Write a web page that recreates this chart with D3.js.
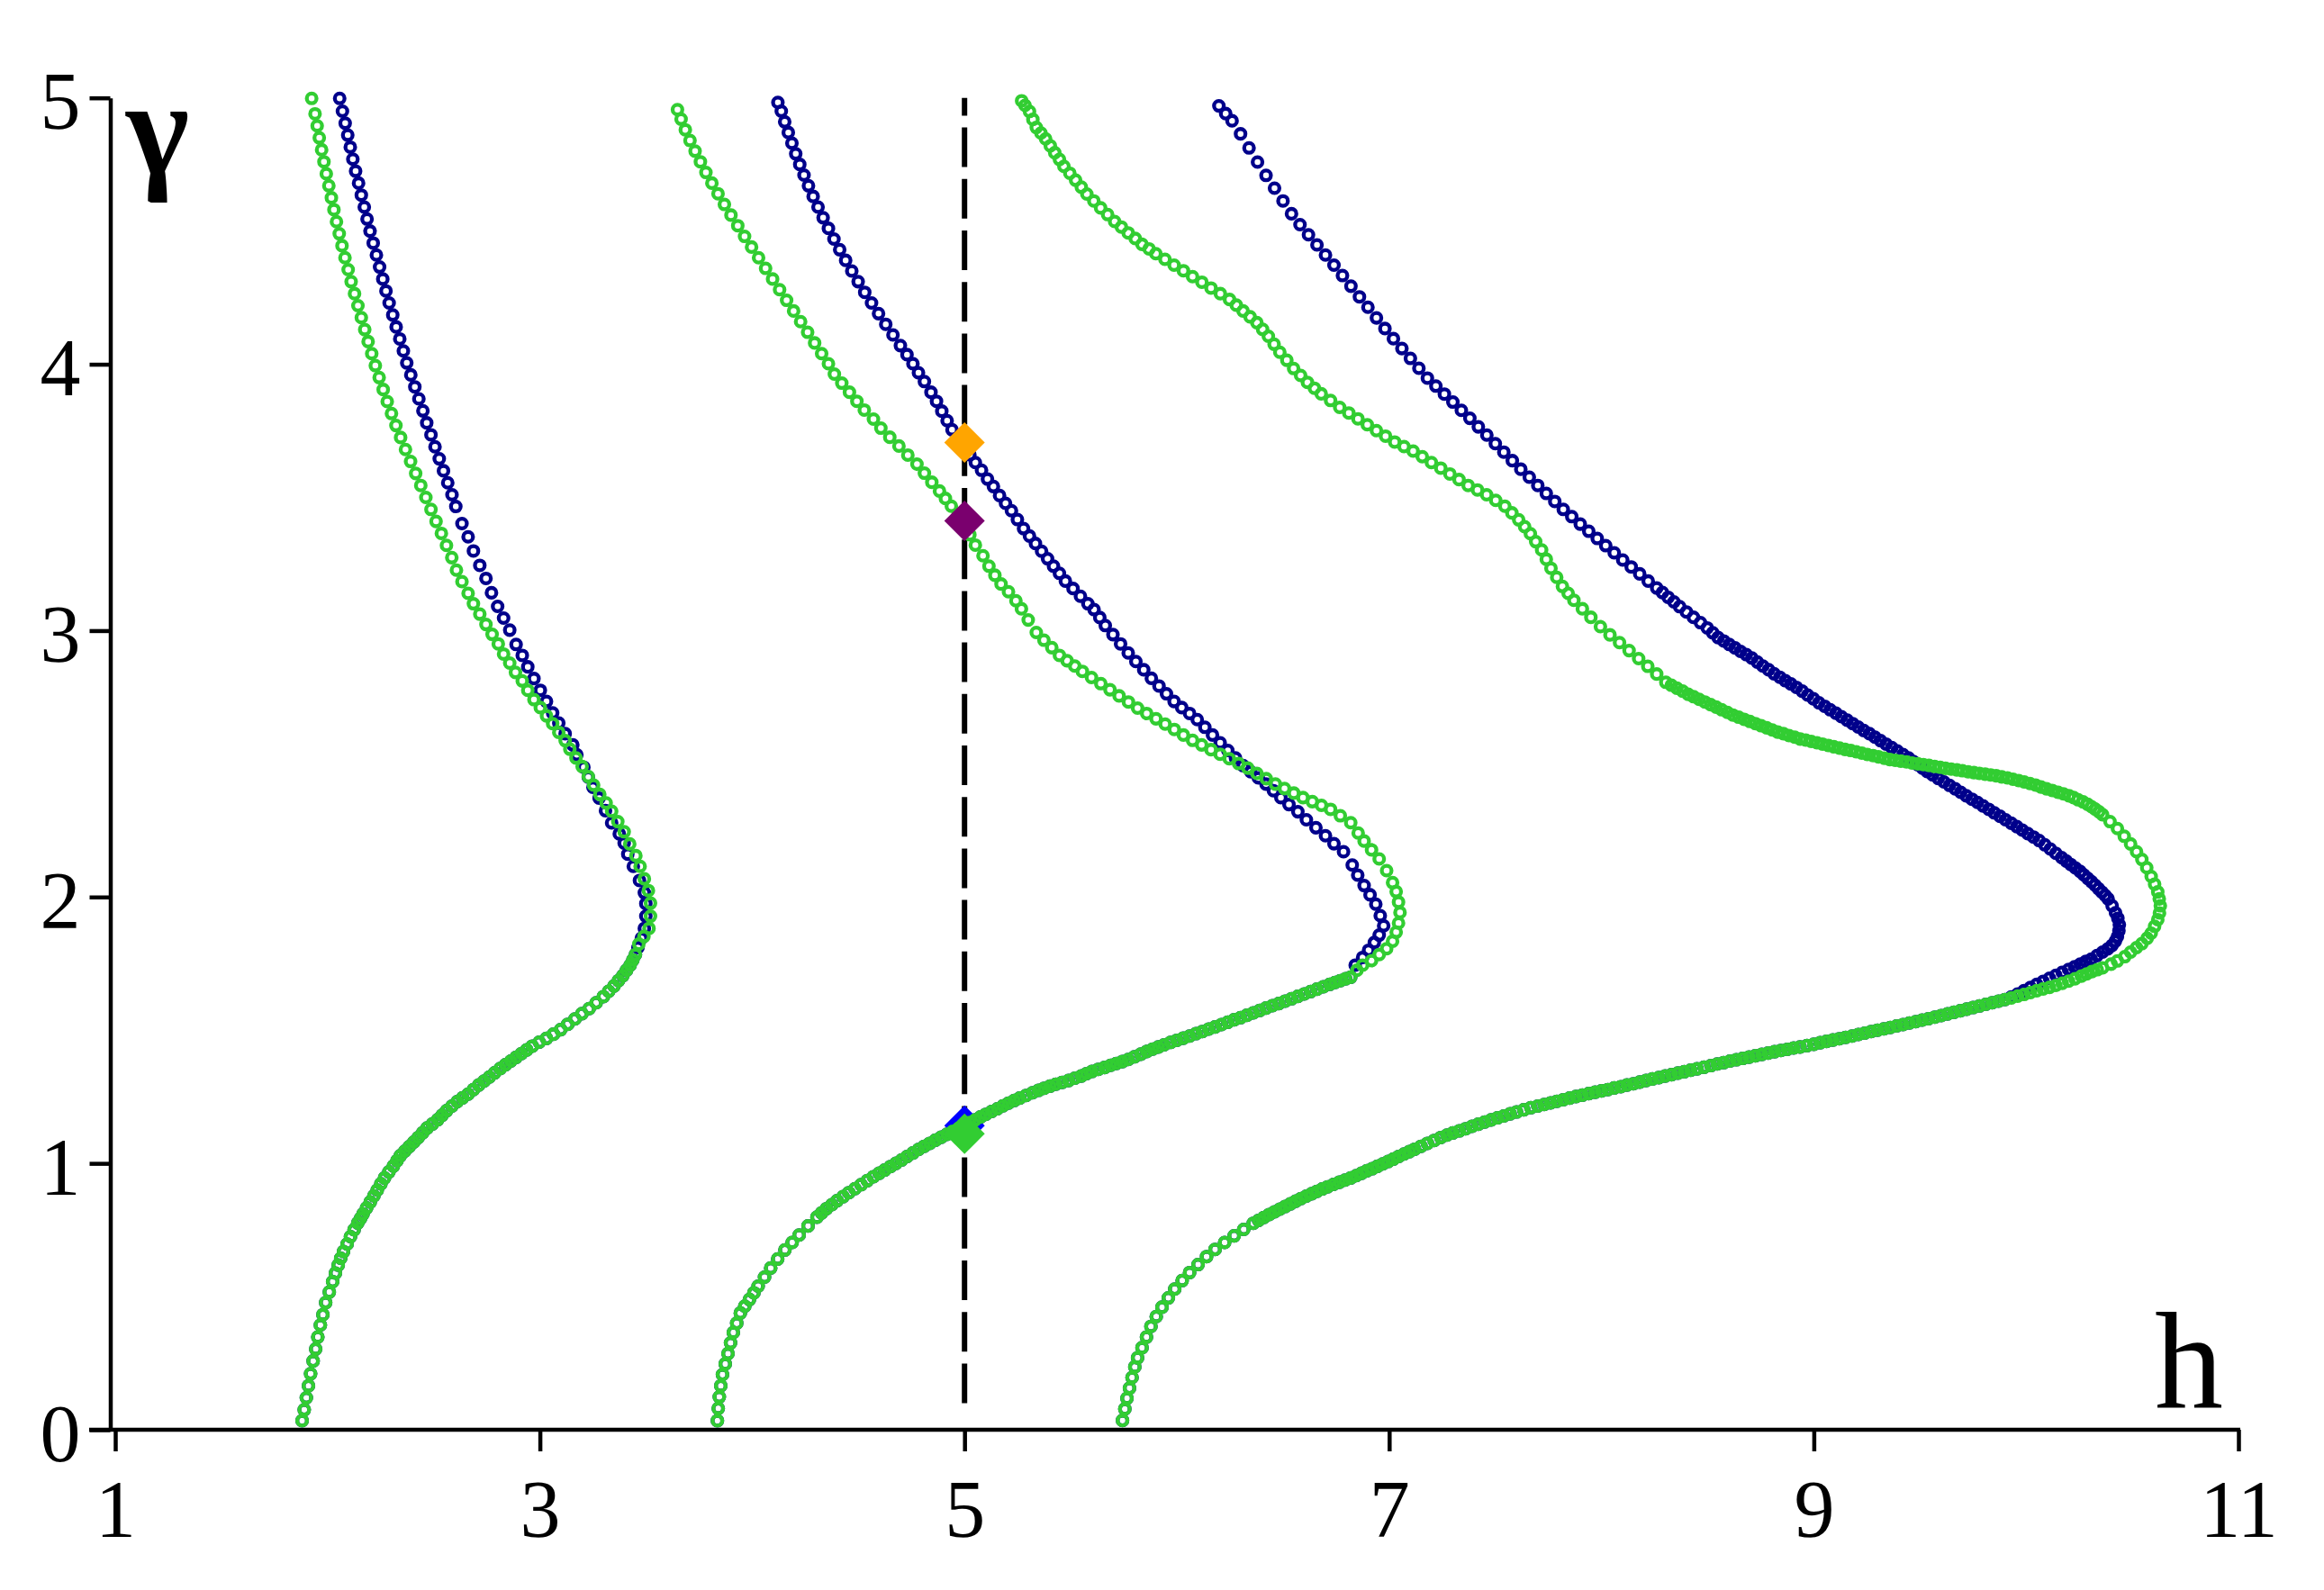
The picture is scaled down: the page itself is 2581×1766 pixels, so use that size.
<!DOCTYPE html>
<html>
<head>
<meta charset="utf-8">
<script src="https://cdn.jsdelivr.net/npm/d3@7"></script>
<style>
  html, body { margin: 0; padding: 0; background: #fff; }
  svg { display: block; }
  .tick text, .label { font-family: "Liberation Serif", "Times New Roman", serif; fill: #000; }
</style>
</head>
<body>
<svg id="chart" width="2581" height="1766"></svg>
<script>
// tick values
const hTicks = [1, 3, 5, 7, 9, 11];
const gammaTicks = [0, 1, 2, 3, 4, 5];

// dashed guide at h = 5, from gamma 0.1 up to 5
const guideH = 5;
const guideGamma = [0.1, 5];

// [h, gamma]; lower branches are shared by both series
const leftLower = [[1.88,0.034],[1.89,0.075],[1.90,0.12],[1.91,0.165],[1.92,0.21],[1.932,0.258],[1.944,0.303],[1.954,0.348],[1.966,0.393],[1.978,0.432],[1.991,0.477],[2.008,0.517],[2.024,0.556],[2.037,0.588],[2.05,0.618],[2.062,0.644],[2.075,0.669],[2.092,0.697],[2.108,0.725],[2.125,0.751],[2.142,0.776],[2.155,0.793],[2.167,0.81],[2.184,0.833],[2.201,0.855],[2.218,0.878],[2.234,0.9],[2.251,0.923],[2.268,0.945],[2.289,0.968],[2.31,0.99],[2.327,1.01],[2.343,1.029],[2.364,1.046],[2.385,1.063],[2.406,1.08],[2.427,1.097],[2.448,1.115],[2.469,1.133],[2.494,1.148],[2.519,1.164],[2.54,1.181],[2.561,1.198],[2.586,1.215],[2.611,1.232],[2.636,1.246],[2.662,1.26],[2.687,1.277],[2.712,1.294],[2.737,1.309],[2.762,1.324],[2.787,1.34],[2.813,1.356],[2.838,1.37],[2.863,1.384],[2.888,1.398],[2.913,1.412],[2.938,1.426],[2.964,1.44],[2.997,1.455],[3.031,1.469],[3.064,1.485],[3.098,1.502],[3.131,1.522],[3.165,1.542],[3.198,1.562],[3.232,1.581],[3.265,1.603],[3.299,1.626],[3.324,1.646],[3.349,1.666],[3.37,1.686],[3.391,1.705],[3.408,1.725],[3.425,1.744],[3.438,1.764],[3.45,1.784]];

const leftUpperBlue = [[3.462,1.81],[3.478,1.845],[3.492,1.882],[3.499,1.928],[3.499,1.975],[3.492,2.016],[3.469,2.062],[3.44,2.115],[3.414,2.161],[3.397,2.202],[3.374,2.237],[3.338,2.278],[3.309,2.324],[3.279,2.371],[3.25,2.412],[3.228,2.45],[3.207,2.487],[3.174,2.534],[3.155,2.571],[3.119,2.613],[3.089,2.653],[3.06,2.691],[3.031,2.734],[3.002,2.776],[2.972,2.82],[2.943,2.864],[2.917,2.907],[2.888,2.948],[2.858,3.002],[2.829,3.047],[2.801,3.091],[2.772,3.142],[2.746,3.196],[2.717,3.245],[2.687,3.299],[2.662,3.352],[2.633,3.402],[2.604,3.466],[2.586,3.51],[2.566,3.555],[2.546,3.6],[2.526,3.645],[2.506,3.69],[2.487,3.735],[2.467,3.78],[2.449,3.825],[2.43,3.87],[2.411,3.915],[2.392,3.96],[2.373,4.005],[2.357,4.05],[2.34,4.095],[2.323,4.14],[2.307,4.185],[2.29,4.23],[2.275,4.275],[2.26,4.32],[2.245,4.365],[2.23,4.41],[2.215,4.455],[2.2,4.5],[2.186,4.545],[2.173,4.59],[2.159,4.635],[2.146,4.68],[2.132,4.725],[2.119,4.77],[2.107,4.815],[2.095,4.86],[2.083,4.905],[2.07,4.95],[2.057,4.998]];

const leftUpperGreen = [[3.466,1.823],[3.49,1.852],[3.514,1.882],[3.521,1.928],[3.521,1.977],[3.511,2.024],[3.492,2.068],[3.472,2.115],[3.452,2.155],[3.423,2.199],[3.397,2.245],[3.367,2.283],[3.338,2.322],[3.312,2.353],[3.282,2.385],[3.253,2.42],[3.228,2.452],[3.199,2.49],[3.17,2.522],[3.141,2.555],[3.119,2.587],[3.089,2.618],[3.06,2.651],[3.031,2.68],[3.002,2.711],[2.972,2.741],[2.943,2.776],[2.917,2.811],[2.885,2.843],[2.858,2.878],[2.829,2.912],[2.804,2.95],[2.775,2.986],[2.746,3.023],[2.717,3.062],[2.687,3.101],[2.662,3.14],[2.633,3.184],[2.607,3.227],[2.585,3.274],[2.56,3.32],[2.536,3.365],[2.511,3.41],[2.487,3.455],[2.463,3.5],[2.439,3.545],[2.415,3.59],[2.391,3.635],[2.367,3.68],[2.344,3.725],[2.322,3.77],[2.301,3.815],[2.281,3.86],[2.262,3.905],[2.243,3.95],[2.225,3.995],[2.208,4.04],[2.191,4.085],[2.175,4.13],[2.159,4.175],[2.143,4.22],[2.127,4.265],[2.111,4.31],[2.097,4.355],[2.082,4.4],[2.068,4.445],[2.055,4.49],[2.042,4.535],[2.03,4.58],[2.018,4.625],[2.006,4.67],[1.994,4.715],[1.983,4.76],[1.972,4.805],[1.961,4.85],[1.951,4.895],[1.941,4.94],[1.925,4.998]];

const midLower = [[3.836,0.034],[3.84,0.08],[3.845,0.123],[3.852,0.165],[3.86,0.207],[3.873,0.247],[3.886,0.286],[3.898,0.326],[3.911,0.365],[3.927,0.4],[3.944,0.438],[3.965,0.464],[3.987,0.489],[4.008,0.514],[4.028,0.539],[4.058,0.573],[4.087,0.607],[4.12,0.641],[4.154,0.675],[4.188,0.703],[4.221,0.731],[4.263,0.765],[4.305,0.798],[4.327,0.814],[4.35,0.83],[4.375,0.845],[4.4,0.86],[4.428,0.875],[4.455,0.89],[4.484,0.905],[4.513,0.92],[4.542,0.935],[4.571,0.95],[4.598,0.963],[4.624,0.975],[4.651,0.988],[4.677,1.0],[4.704,1.013],[4.73,1.026],[4.757,1.039],[4.783,1.052],[4.81,1.064],[4.836,1.075],[4.863,1.087],[4.89,1.098],[4.917,1.109],[4.944,1.12],[4.971,1.131],[4.998,1.142],[5.024,1.153],[5.05,1.163],[5.075,1.174],[5.1,1.184],[5.128,1.195],[5.155,1.205],[5.181,1.216],[5.207,1.226],[5.234,1.236],[5.26,1.245],[5.29,1.255],[5.32,1.265],[5.348,1.274],[5.375,1.282],[5.403,1.29],[5.43,1.297],[5.46,1.304],[5.49,1.311],[5.52,1.32],[5.55,1.328],[5.575,1.337],[5.6,1.345],[5.63,1.353],[5.66,1.36],[5.688,1.368],[5.715,1.375],[5.743,1.382],[5.771,1.39],[5.8,1.4],[5.83,1.41],[5.858,1.42],[5.886,1.429],[5.913,1.437],[5.94,1.445],[5.97,1.454],[6.0,1.462],[6.03,1.47],[6.06,1.478],[6.09,1.487],[6.12,1.495],[6.15,1.504],[6.18,1.512],[6.21,1.521],[6.24,1.53],[6.27,1.539],[6.3,1.547],[6.33,1.556],[6.36,1.565],[6.39,1.574],[6.42,1.583],[6.45,1.592],[6.48,1.6],[6.51,1.609],[6.54,1.618],[6.57,1.627],[6.6,1.636],[6.63,1.645],[6.66,1.654],[6.69,1.663],[6.72,1.672],[6.745,1.679],[6.77,1.686],[6.795,1.693],[6.819,1.699]];

const midUpperBlue = [[6.84,1.744],[6.875,1.773],[6.903,1.8],[6.93,1.829],[6.953,1.857],[6.974,1.892],[6.958,1.93],[6.937,1.973],[6.91,2.008],[6.882,2.043],[6.852,2.082],[6.826,2.12],[6.785,2.17],[6.74,2.2],[6.7,2.23],[6.655,2.26],[6.61,2.29],[6.57,2.32],[6.528,2.347],[6.49,2.373],[6.455,2.399],[6.42,2.424],[6.384,2.447],[6.348,2.47],[6.312,2.493],[6.276,2.522],[6.24,2.55],[6.204,2.579],[6.168,2.608],[6.132,2.637],[6.096,2.666],[6.06,2.689],[6.023,2.711],[5.987,2.734],[5.951,2.763],[5.916,2.792],[5.88,2.821],[5.844,2.853],[5.807,2.884],[5.771,2.916],[5.735,2.95],[5.699,2.985],[5.663,3.019],[5.637,3.049],[5.61,3.079],[5.581,3.101],[5.546,3.129],[5.511,3.158],[5.475,3.186],[5.447,3.215],[5.419,3.242],[5.391,3.27],[5.363,3.298],[5.334,3.327],[5.306,3.355],[5.278,3.383],[5.249,3.417],[5.221,3.45],[5.193,3.478],[5.165,3.507],[5.136,3.541],[5.108,3.569],[5.08,3.602],[5.051,3.631],[5.025,3.66],[5.0,3.69],[4.97,3.722],[4.941,3.754],[4.918,3.788],[4.893,3.824],[4.868,3.861],[4.842,3.895],[4.811,3.935],[4.783,3.968],[4.757,4.002],[4.729,4.036],[4.698,4.07],[4.663,4.11],[4.629,4.15],[4.595,4.19],[4.562,4.23],[4.53,4.27],[4.499,4.31],[4.469,4.35],[4.44,4.39],[4.412,4.43],[4.385,4.47],[4.359,4.51],[4.334,4.55],[4.31,4.59],[4.287,4.63],[4.265,4.67],[4.244,4.71],[4.224,4.75],[4.205,4.79],[4.187,4.83],[4.17,4.87],[4.153,4.91],[4.137,4.95],[4.121,4.983]];

const midUpperGreen = [[6.848,1.725],[6.875,1.744],[6.917,1.761],[6.953,1.784],[6.988,1.806],[7.016,1.834],[7.033,1.868],[7.044,1.902],[7.051,1.942],[7.044,1.981],[7.033,2.02],[7.016,2.054],[6.988,2.099],[6.953,2.143],[6.917,2.177],[6.882,2.21],[6.854,2.24],[6.819,2.279],[6.77,2.305],[6.724,2.329],[6.681,2.344],[6.638,2.358],[6.594,2.373],[6.551,2.39],[6.507,2.407],[6.464,2.424],[6.421,2.444],[6.377,2.464],[6.334,2.484],[6.291,2.501],[6.247,2.519],[6.204,2.536],[6.161,2.553],[6.117,2.571],[6.074,2.588],[6.031,2.608],[5.988,2.629],[5.945,2.649],[5.902,2.669],[5.858,2.689],[5.815,2.709],[5.772,2.732],[5.728,2.755],[5.685,2.778],[5.642,2.801],[5.598,2.824],[5.555,2.847],[5.519,2.867],[5.483,2.887],[5.447,2.907],[5.411,2.936],[5.374,2.964],[5.338,2.993],[5.3,3.04],[5.268,3.082],[5.242,3.112],[5.207,3.146],[5.172,3.175],[5.143,3.208],[5.115,3.242],[5.087,3.281],[5.051,3.321],[5.025,3.36],[5.0,3.4],[4.97,3.435],[4.938,3.467],[4.91,3.496],[4.882,3.524],[4.846,3.557],[4.811,3.591],[4.776,3.625],[4.733,3.659],[4.691,3.693],[4.648,3.726],[4.606,3.76],[4.571,3.794],[4.528,3.828],[4.493,3.861],[4.458,3.895],[4.422,3.929],[4.387,3.963],[4.359,4.002],[4.327,4.04],[4.294,4.08],[4.261,4.12],[4.228,4.16],[4.195,4.2],[4.162,4.24],[4.129,4.28],[4.096,4.32],[4.063,4.36],[4.03,4.4],[3.997,4.44],[3.964,4.48],[3.932,4.52],[3.9,4.56],[3.869,4.6],[3.839,4.64],[3.81,4.68],[3.782,4.72],[3.756,4.76],[3.731,4.8],[3.707,4.84],[3.685,4.88],[3.665,4.92],[3.648,4.956]];

const rightLower = [[5.744,0.035],[5.755,0.078],[5.765,0.118],[5.777,0.156],[5.789,0.196],[5.802,0.236],[5.815,0.27],[5.836,0.308],[5.857,0.348],[5.878,0.388],[5.903,0.425],[5.93,0.46],[5.96,0.495],[5.99,0.528],[6.025,0.56],[6.06,0.59],[6.1,0.62],[6.14,0.65],[6.18,0.677],[6.225,0.703],[6.27,0.728],[6.315,0.752],[6.36,0.775],[6.385,0.786],[6.41,0.797],[6.435,0.808],[6.46,0.818],[6.485,0.828],[6.51,0.838],[6.535,0.848],[6.56,0.858],[6.585,0.868],[6.61,0.877],[6.635,0.886],[6.66,0.895],[6.685,0.904],[6.71,0.912],[6.738,0.921],[6.765,0.929],[6.792,0.937],[6.819,0.945],[6.845,0.954],[6.87,0.963],[6.895,0.972],[6.92,0.98],[6.945,0.989],[6.97,0.998],[6.995,1.007],[7.02,1.016],[7.045,1.026],[7.07,1.035],[7.095,1.044],[7.12,1.053],[7.15,1.064],[7.18,1.075],[7.212,1.086],[7.243,1.097],[7.272,1.106],[7.3,1.114],[7.33,1.122],[7.36,1.13],[7.39,1.139],[7.42,1.147],[7.45,1.155],[7.48,1.163],[7.51,1.171],[7.54,1.178],[7.57,1.186],[7.6,1.193],[7.634,1.201],[7.667,1.209],[7.7,1.215],[7.73,1.221],[7.76,1.227],[7.79,1.233],[7.82,1.239],[7.85,1.245],[7.88,1.251],[7.91,1.256],[7.94,1.262],[7.97,1.267],[8.0,1.272],[8.03,1.277],[8.06,1.283],[8.091,1.288],[8.12,1.294],[8.15,1.299],[8.18,1.305],[8.21,1.311],[8.24,1.317],[8.27,1.322],[8.3,1.328],[8.33,1.333],[8.36,1.339],[8.39,1.344],[8.42,1.35],[8.45,1.355],[8.483,1.361],[8.515,1.367],[8.545,1.373],[8.575,1.378],[8.605,1.384],[8.635,1.389],[8.665,1.394],[8.695,1.399],[8.725,1.404],[8.755,1.409],[8.785,1.414],[8.815,1.419],[8.845,1.424],[8.875,1.428],[8.905,1.433],[8.935,1.437],[8.968,1.442],[9.0,1.447],[9.03,1.453],[9.06,1.458],[9.09,1.463],[9.12,1.468],[9.15,1.473],[9.18,1.478],[9.21,1.484],[9.24,1.489],[9.27,1.495],[9.3,1.5],[9.33,1.505],[9.36,1.51],[9.39,1.516],[9.42,1.521],[9.45,1.527],[9.48,1.532],[9.51,1.538],[9.54,1.543],[9.57,1.549],[9.6,1.555],[9.63,1.561],[9.66,1.567],[9.69,1.573],[9.72,1.579],[9.75,1.585],[9.78,1.591],[9.81,1.597],[9.84,1.603],[9.87,1.609],[9.9,1.615]];

const rightUpperBlue = [[9.93,1.625],[9.96,1.636],[9.99,1.648],[10.02,1.66],[10.05,1.672],[10.08,1.683],[10.11,1.695],[10.14,1.706],[10.17,1.717],[10.2,1.728],[10.228,1.738],[10.255,1.748],[10.281,1.758],[10.307,1.767],[10.334,1.78],[10.36,1.793],[10.384,1.805],[10.404,1.818],[10.42,1.834],[10.43,1.851],[10.437,1.873],[10.439,1.896],[10.432,1.92],[10.421,1.941],[10.405,1.967],[10.386,1.993],[10.372,2.006],[10.357,2.018],[10.341,2.031],[10.325,2.044],[10.308,2.057],[10.29,2.07],[10.272,2.083],[10.254,2.096],[10.232,2.109],[10.21,2.122],[10.189,2.135],[10.167,2.148],[10.14,2.164],[10.114,2.18],[10.088,2.196],[10.061,2.212],[10.035,2.225],[10.008,2.238],[9.982,2.251],[9.956,2.264],[9.93,2.277],[9.903,2.29],[9.877,2.303],[9.85,2.316],[9.824,2.329],[9.797,2.342],[9.771,2.355],[9.745,2.367],[9.718,2.38],[9.692,2.393],[9.666,2.406],[9.639,2.419],[9.613,2.432],[9.586,2.445],[9.56,2.458],[9.534,2.471],[9.512,2.484],[9.49,2.496],[9.468,2.509],[9.446,2.522],[9.42,2.535],[9.393,2.548],[9.367,2.561],[9.34,2.574],[9.314,2.587],[9.288,2.6],[9.262,2.613],[9.235,2.625],[9.209,2.638],[9.183,2.651],[9.157,2.664],[9.13,2.677],[9.104,2.69],[9.077,2.703],[9.051,2.716],[9.024,2.729],[8.998,2.744],[8.971,2.758],[8.945,2.773],[8.918,2.787],[8.892,2.8],[8.866,2.812],[8.84,2.825],[8.813,2.838],[8.787,2.853],[8.76,2.867],[8.734,2.882],[8.708,2.897],[8.682,2.91],[8.655,2.922],[8.629,2.935],[8.602,2.948],[8.576,2.961],[8.549,2.974],[8.524,2.992],[8.498,3.01],[8.466,3.03],[8.433,3.05],[8.4,3.07],[8.368,3.09],[8.341,3.108],[8.314,3.125],[8.287,3.143],[8.26,3.16],[8.22,3.186],[8.18,3.213],[8.14,3.239],[8.1,3.265],[8.06,3.292],[8.02,3.319],[7.98,3.346],[7.94,3.373],[7.9,3.4],[7.86,3.428],[7.82,3.455],[7.78,3.485],[7.74,3.515],[7.7,3.545],[7.66,3.576],[7.62,3.606],[7.58,3.638],[7.54,3.67],[7.5,3.702],[7.46,3.734],[7.42,3.765],[7.38,3.797],[7.34,3.827],[7.3,3.858],[7.26,3.888],[7.22,3.918],[7.18,3.948],[7.14,3.985],[7.1,4.022],[7.06,4.059],[7.02,4.096],[6.98,4.134],[6.94,4.174],[6.9,4.214],[6.86,4.253],[6.82,4.293],[6.78,4.333],[6.74,4.372],[6.7,4.41],[6.66,4.448],[6.62,4.486],[6.58,4.524],[6.54,4.565],[6.5,4.613],[6.46,4.661],[6.42,4.709],[6.38,4.759],[6.34,4.812],[6.3,4.865],[6.26,4.914],[6.23,4.941],[6.198,4.97]];

const rightUpperGreen = [[9.93,1.621],[9.96,1.628],[9.99,1.634],[10.02,1.641],[10.05,1.648],[10.08,1.655],[10.11,1.661],[10.14,1.668],[10.17,1.676],[10.2,1.684],[10.23,1.693],[10.26,1.703],[10.285,1.711],[10.31,1.72],[10.335,1.727],[10.36,1.734],[10.4,1.748],[10.43,1.76],[10.465,1.776],[10.492,1.793],[10.52,1.81],[10.545,1.825],[10.57,1.845],[10.589,1.864],[10.605,1.89],[10.62,1.915],[10.628,1.94],[10.632,1.967],[10.627,1.993],[10.62,2.019],[10.605,2.048],[10.589,2.077],[10.568,2.11],[10.545,2.141],[10.52,2.17],[10.492,2.199],[10.462,2.228],[10.43,2.257],[10.395,2.283],[10.36,2.309],[10.343,2.32],[10.325,2.33],[10.308,2.339],[10.29,2.348],[10.268,2.357],[10.245,2.365],[10.224,2.373],[10.202,2.38],[10.176,2.387],[10.15,2.393],[10.123,2.4],[10.096,2.406],[10.07,2.413],[10.045,2.42],[10.018,2.426],[9.991,2.432],[9.965,2.437],[9.938,2.442],[9.912,2.447],[9.885,2.451],[9.859,2.455],[9.833,2.458],[9.807,2.461],[9.78,2.464],[9.754,2.467],[9.727,2.47],[9.7,2.474],[9.674,2.477],[9.647,2.48],[9.62,2.483],[9.595,2.487],[9.569,2.49],[9.542,2.494],[9.516,2.497],[9.49,2.5],[9.463,2.503],[9.437,2.507],[9.41,2.51],[9.384,2.513],[9.358,2.516],[9.332,2.521],[9.305,2.526],[9.279,2.531],[9.252,2.535],[9.226,2.54],[9.2,2.545],[9.174,2.55],[9.147,2.554],[9.121,2.559],[9.094,2.564],[9.068,2.569],[9.041,2.574],[9.015,2.579],[8.988,2.584],[8.962,2.589],[8.936,2.593],[8.91,2.6],[8.883,2.606],[8.857,2.613],[8.83,2.619],[8.804,2.627],[8.778,2.635],[8.752,2.643],[8.725,2.651],[8.699,2.659],[8.672,2.667],[8.646,2.675],[8.619,2.683],[8.593,2.693],[8.566,2.703],[8.54,2.713],[8.514,2.722],[8.487,2.732],[8.46,2.742],[8.434,2.752],[8.408,2.761],[8.382,2.773],[8.355,2.784],[8.329,2.795],[8.303,2.806],[8.26,2.837],[8.218,2.866],[8.175,2.895],[8.13,2.925],[8.085,2.955],[8.04,2.984],[7.995,3.015],[7.95,3.05],[7.91,3.082],[7.87,3.114],[7.843,3.14],[7.816,3.166],[7.789,3.2],[7.762,3.234],[7.74,3.268],[7.718,3.303],[7.69,3.334],[7.665,3.364],[7.638,3.39],[7.61,3.416],[7.578,3.442],[7.545,3.467],[7.502,3.489],[7.459,3.51],[7.416,3.528],[7.372,3.545],[7.329,3.567],[7.286,3.588],[7.243,3.61],[7.199,3.631],[7.156,3.653],[7.113,3.674],[7.07,3.691],[7.026,3.708],[6.983,3.73],[6.94,3.751],[6.897,3.773],[6.853,3.795],[6.81,3.817],[6.767,3.838],[6.724,3.864],[6.68,3.889],[6.648,3.91],[6.615,3.932],[6.583,3.958],[6.55,3.984],[6.518,4.015],[6.485,4.045],[6.458,4.075],[6.431,4.105],[6.404,4.131],[6.377,4.156],[6.345,4.178],[6.312,4.2],[6.28,4.222],[6.248,4.243],[6.205,4.265],[6.161,4.286],[6.118,4.308],[6.074,4.329],[6.031,4.351],[5.987,4.372],[5.944,4.394],[5.901,4.415],[5.869,4.433],[5.836,4.45],[5.804,4.472],[5.771,4.493],[5.739,4.515],[5.707,4.536],[5.674,4.562],[5.641,4.587],[5.609,4.613],[5.576,4.639],[5.55,4.665],[5.523,4.691],[5.496,4.717],[5.468,4.743],[5.447,4.769],[5.425,4.794],[5.404,4.82],[5.382,4.846],[5.36,4.868],[5.338,4.889],[5.322,4.919],[5.306,4.949],[5.285,4.972],[5.269,4.989]];

// points marked on the h = 5 line
const bluePoints = [[5, 3.706], [5, 1.142]];
const greenPoints = [[5, 3.412], [5, 1.111]];

const blueSeries = [
  leftLower.concat(leftUpperBlue),
  midLower.concat(midUpperBlue),
  rightLower.concat(rightUpperBlue)
];
const greenSeries = [
  leftLower.concat(leftUpperGreen),
  midLower.concat(midUpperGreen),
  rightLower.concat(rightUpperGreen)
];

const svg = d3.select("#chart");
svg.append("rect").attr("width", 2581).attr("height", 1766).attr("fill", "#fff");

const x = d3.scaleLinear().domain([1, 11]).range([128, 2486]);
const y = d3.scaleLinear().domain([0, 5]).range([1588, 108.7]);

const axisColor = "#000";
const axisWidth = 4.5;

// x axis
const gx = svg.append("g")
  .attr("transform", "translate(0," + y(0) + ")")
  .call(d3.axisBottom(x).tickValues(hTicks).tickFormat(d3.format("d"))
    .tickSize(24).tickSizeOuter(0).tickPadding(31));
gx.select(".domain").remove();
gx.selectAll(".tick line").attr("stroke", axisColor).attr("stroke-width", axisWidth);
gx.selectAll(".tick text").attr("font-size", 90);
gx.append("line")
  .attr("x1", 99).attr("x2", x(11) + 2)
  .attr("y1", 0).attr("y2", 0)
  .attr("stroke", axisColor).attr("stroke-width", axisWidth);

// y axis, drawn a little left of h = 1
const gy = svg.append("g")
  .attr("transform", "translate(122.5,0)")
  .call(d3.axisLeft(y).tickValues(gammaTicks).tickFormat(d3.format("d"))
    .tickSize(23).tickSizeOuter(0).tickPadding(10));
gy.select(".domain").attr("stroke", axisColor).attr("stroke-width", axisWidth);
gy.selectAll(".tick line").attr("stroke", axisColor).attr("stroke-width", axisWidth);
gy.selectAll(".tick text").attr("font-size", 90).attr("dy", "0.38em");

// axis letters
svg.append("text").attr("class", "label")
  .attr("x", 140).attr("y", 193)
  .attr("font-size", 150).attr("font-weight", "bold")
  .text("γ");
svg.append("text").attr("class", "label")
  .attr("x", 2393).attr("y", 1563)
  .attr("font-size", 152)
  .text("h");

// dashed guide
const line = d3.line().x(d => x(d[0])).y(d => y(d[1]));
svg.append("path")
  .datum(guideGamma.map(g => [guideH, g]))
  .attr("d", line)
  .attr("fill", "none")
  .attr("stroke", "#000")
  .attr("stroke-width", 6)
  .attr("stroke-dasharray", "44 13.2");

const diamond = d3.symbol().type(d3.symbolSquare).size(1012);

function drawSeries(series, color) {
  const g = svg.append("g");
  series.forEach(function(points) {
    g.append("g").selectAll("circle")
      .data(points)
      .enter()
      .append("circle")
      .attr("cx", d => x(d[0]))
      .attr("cy", d => y(d[1]))
      .attr("r", 5.4)
      .attr("fill", "none")
      .attr("stroke", color)
      .attr("stroke-width", 4.3);
  });
}

function drawMarkers(points, colors) {
  svg.append("g").selectAll("path")
    .data(points)
    .enter()
    .append("path")
    .attr("d", diamond)
    .attr("transform", d => "translate(" + x(d[0]) + "," + y(d[1]) + ") rotate(45)")
    .attr("fill", (d, i) => colors[i]);
}

drawSeries(blueSeries, "#00008b");
drawMarkers(bluePoints, ["#ffa500", "#0000ff"]);
drawSeries(greenSeries, "#32cd32");
drawMarkers(greenPoints, ["#7a006e", "#32cd32"]);
</script>
</body>
</html>
